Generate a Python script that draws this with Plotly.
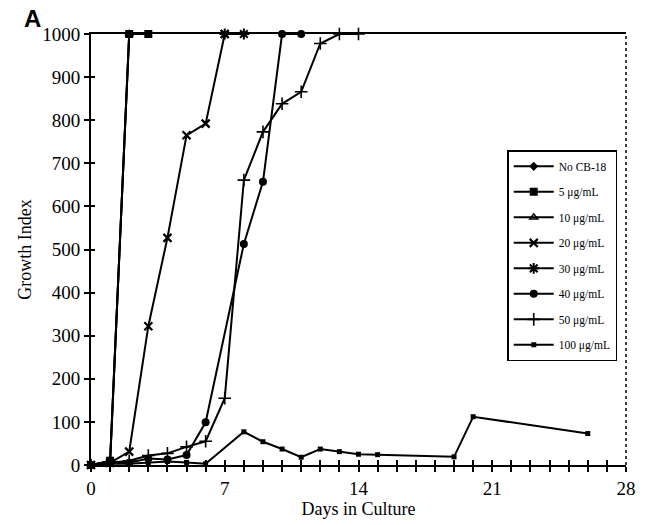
import plotly.graph_objects as go

# Days and growth index values
no_cb_days = [0, 1, 2]
no_cb_vals = [0, 8, 1000]

ug5_days = [0, 1, 2, 3]
ug5_vals = [0, 10, 1000, 1000]

ug10_days = [0, 1, 2]
ug10_vals = [0, 8, 1000]

ug20_days = [0, 1, 2, 3, 4, 5, 6, 7]
ug20_vals = [0, 5, 31, 322, 527, 765, 792, 1000]

ug30_days = [7, 8]
ug30_vals = [1000, 1000]

ug40_days = [0, 1, 2, 3, 4, 5, 6, 8, 9, 10, 11]
ug40_vals = [0, 8, 5, 15, 13, 23, 99, 513, 657, 1000, 1000]

ug50_days = [0, 1, 2, 3, 4, 5, 6, 7, 8, 9, 10, 11, 12, 13, 14]
ug50_vals = [0, 5, 10, 22, 27, 42, 55, 155, 661, 773, 838, 866, 978, 1000, 1000]

ug100_days = [0, 1, 2, 3, 4, 5, 6, 8, 9, 10, 11, 12, 13, 14, 15, 19, 20, 26]
ug100_vals = [0, 3, 3, 5, 8, 6, 3, 77, 54, 37, 18, 37, 31, 25, 24, 19, 112, 73]

x_tickvals = [0, 7, 14, 21, 28]
y_tickvals = [0, 100, 200, 300, 400, 500, 600, 700, 800, 900, 1000]

SERIF = "Liberation Serif"

series = [
    ("No CB-18", no_cb_days, no_cb_vals, dict(symbol="diamond", size=7)),
    ("10 \u03bcg/mL", ug10_days, ug10_vals, dict(symbol="triangle-up-open", size=7, line=dict(width=1.5, color="black"))),
    ("5 \u03bcg/mL", ug5_days, ug5_vals, dict(symbol="square", size=8)),
    ("30 \u03bcg/mL", ug30_days, ug30_vals, dict(symbol="asterisk-open", size=9, line=dict(width=2, color="black"))),
    ("20 \u03bcg/mL", ug20_days, ug20_vals, dict(symbol="x-thin-open", size=8, line=dict(width=2.2, color="black"))),
    ("40 \u03bcg/mL", ug40_days, ug40_vals, dict(symbol="circle", size=8)),
    ("50 \u03bcg/mL", ug50_days, ug50_vals, dict(symbol="cross-thin-open", size=9, line=dict(width=1.6, color="black"))),
    ("100 \u03bcg/mL", ug100_days, ug100_vals, dict(symbol="square", size=5)),
]
legend_rank = {"No CB-18": 1, "5 \u03bcg/mL": 2, "10 \u03bcg/mL": 3, "20 \u03bcg/mL": 4,
               "30 \u03bcg/mL": 5, "40 \u03bcg/mL": 6, "50 \u03bcg/mL": 7, "100 \u03bcg/mL": 8}

fig = go.Figure()
for name, xs, ys, mk in series:
    mk = dict(mk)
    mk.setdefault("color", "black")
    fig.add_trace(go.Scatter(
        x=xs, y=ys, name=name, mode="lines+markers",
        line=dict(color="black", width=2),
        marker=mk, cliponaxis=False,
        legendgroup=name, legendrank=legend_rank[name],
    ))

# helper empty trace to register overlay axes for crossing ticks
fig.add_trace(go.Scatter(x=[], y=[], xaxis="x2", yaxis="y2", showlegend=False, hoverinfo="skip"))

fig.update_layout(
    width=648, height=525,
    margin=dict(l=91, r=20, t=34, b=56),
    paper_bgcolor="white", plot_bgcolor="white",
    font=dict(family=SERIF, size=18, color="black"),
    showlegend=True,
    legend=dict(
        x=0.778, y=0.73, xanchor="left", yanchor="top",
        bgcolor="white", bordercolor="black", borderwidth=1.5,
        font=dict(family=SERIF, size=11.5, color="black"),
        tracegroupgap=6.5, itemwidth=40,
    ),
    xaxis=dict(
        range=[0, 28], tickvals=x_tickvals, ticks="outside", ticklen=5, tickwidth=1.5,
        tickcolor="black", showline=True, linecolor="black", linewidth=2, mirror=True,
        showgrid=False, zeroline=False,
        minor=dict(dtick=1, ticks="outside", ticklen=5, tickwidth=1.5, tickcolor="black"),
        title=dict(text="Days in Culture", standoff=2, font=dict(family=SERIF, size=18)),
        tickfont=dict(family=SERIF, size=19),
    ),
    yaxis=dict(
        range=[0, 1000], tickvals=y_tickvals, ticks="outside", ticklen=5, tickwidth=1.5,
        tickcolor="black", showline=True, linecolor="black", linewidth=2,
        showgrid=False, zeroline=False,
        title=dict(text="Growth Index", standoff=6, font=dict(family=SERIF, size=18)),
        tickfont=dict(family=SERIF, size=19),
    ),
    xaxis2=dict(
        overlaying="x", matches="x", anchor="y2", side="bottom", range=[0, 28],
        dtick=1, ticks="inside", ticklen=5, tickwidth=1.5, tickcolor="black",
        showticklabels=False, showgrid=False, zeroline=False, showline=False,
    ),
    yaxis2=dict(
        overlaying="y", matches="y", anchor="x2", side="left", range=[0, 1000],
        dtick=100, ticks="inside", ticklen=4, tickwidth=1.5, tickcolor="black",
        showticklabels=False, showgrid=False, zeroline=False, showline=False,
    ),
    shapes=[dict(type="line", xref="paper", yref="paper", x0=1, x1=1, y0=0, y1=1,
                 line=dict(color="black", width=1.5, dash="dot"))],
    annotations=[dict(text="<b>A</b>", xref="paper", yref="paper", x=-0.109, y=1.037,
                      xanchor="center", yanchor="middle", showarrow=False,
                      font=dict(family="Liberation Sans", size=24, color="black"))],
)

fig.write_html("out.html")
